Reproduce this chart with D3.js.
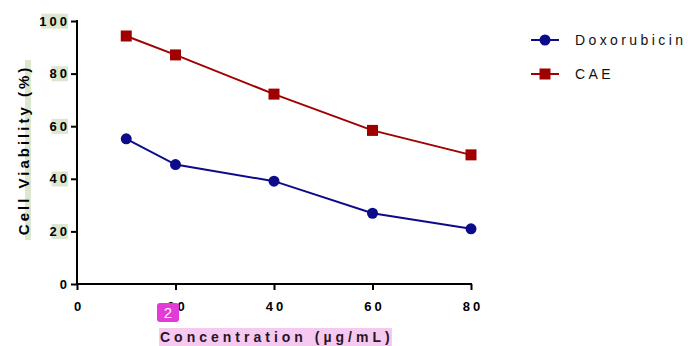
<!DOCTYPE html>
<html>
<head>
<meta charset="utf-8">
<script src="https://cdn.jsdelivr.net/npm/d3@7"></script>
<style>
  body { margin: 0; background: #fff; }
  svg text { font-family: "Liberation Sans", Arial, sans-serif; }
</style>
</head>
<body>
<div id="chart"></div>
<script>
// data
var concentrations = [10, 20, 40, 60, 80];
var doxorubicin = [55.2, 45.4, 39.1, 26.9, 21.0];
var cae = [94.3, 87.1, 72.2, 58.4, 49.1];
var seriesNames = ["Doxorubicin", "CAE"];
var xTicks = [0, 20, 40, 60, 80];
var yTicks = [0, 20, 40, 60, 80, 100];

var W = 688, H = 346;
var margin = {top: 21, left: 77};
var width = 394, height = 263;

var svg = d3.select("#chart")
  .append("svg")
    .attr("width", W)
    .attr("height", H);

var x = d3.scaleLinear().domain([0, 80]).range([margin.left, margin.left + width]);
var y = d3.scaleLinear().domain([0, 100]).range([margin.top + height, margin.top]);

// highlight layer (drawn first so it sits behind text)
var hl = svg.append("g");

// Y axis
var yAxis = svg.append("g")
  .attr("transform", "translate(" + margin.left + ",0)")
  .call(d3.axisLeft(y).tickValues(yTicks).tickSize(6).tickPadding(4).tickSizeOuter(0));
yAxis.select(".domain").attr("stroke", "#000").attr("stroke-width", 2)
  .attr("d", "M0," + (y(100) - 1) + "V" + (y(0) + 1));
yAxis.selectAll(".tick line").attr("stroke", "#000").attr("stroke-width", 2);
yAxis.selectAll(".tick text")
  .attr("fill", "#000")
  .style("font-size", "13px")
  .style("font-weight", "bold")
  .style("letter-spacing", "3px")
  .attr("dx", "3px");

// X axis
var xAxis = svg.append("g")
  .attr("transform", "translate(0," + y(0) + ")")
  .call(d3.axisBottom(x).tickValues(xTicks).tickSize(6).tickPadding(12).tickSizeOuter(0));
xAxis.select(".domain").attr("stroke", "#000").attr("stroke-width", 2)
  .attr("d", "M" + (x(0) - 1) + ",0H" + (x(80) + 1));
xAxis.selectAll(".tick line").attr("stroke", "#000").attr("stroke-width", 2);
xAxis.selectAll(".tick text")
  .attr("fill", "#000")
  .style("font-size", "13px")
  .style("font-weight", "bold")
  .style("letter-spacing", "3px")
  .attr("dx", "1.5px");

// light green boxes behind the y tick labels (except 0)
yAxis.selectAll(".tick text").each(function(d) {
  if (d === 0) return;
  var b = this.getBBox();
  var t = d3.select(this.parentNode).attr("transform").match(/[-\d.]+/g).map(Number);
  hl.append("rect")
    .attr("x", margin.left + t[0] + b.x + 2)
    .attr("y", t[1] + b.y)
    .attr("width", b.width - 4)
    .attr("height", b.height)
    .attr("fill", "#dde6cf");
});

// axis titles
svg.append("text")
  .attr("transform", "translate(29," + 150 + ") rotate(-90)")
  .attr("text-anchor", "middle")
  .attr("fill", "#000")
  .style("font-size", "15px")
  .style("font-weight", "bold")
  .style("letter-spacing", "3px")
  .text("Cell Viability (%)");
hl.append("rect")
  .attr("x", 25).attr("y", 60)
  .attr("width", 6).attr("height", 180)
  .attr("fill", "#dde6cf");

hl.append("rect")
  .attr("x", 159).attr("y", 328)
  .attr("width", 233).attr("height", 18)
  .attr("fill", "#f6c9f0");
svg.append("text")
  .attr("x", 160)
  .attr("y", 342)
  .attr("fill", "#2a1428")
  .style("font-size", "14px")
  .style("font-weight", "bold")
  .style("letter-spacing", "4px")
  .text("Concentration (\u00b5g/mL)");

// the pink "2" badge
svg.append("rect")
  .attr("x", 157).attr("y", 303)
  .attr("width", 22).attr("height", 19)
  .attr("rx", 3)
  .attr("fill", "#e43ad8");
svg.append("text")
  .attr("x", 168).attr("y", 318)
  .attr("text-anchor", "middle")
  .attr("fill", "#fff")
  .style("font-size", "15px")
  .text("2");

// series
var colors = {"Doxorubicin": "#0c0c8a", "CAE": "#a00000"};
var seriesData = [
  {name: "Doxorubicin", values: doxorubicin, shape: "circle"},
  {name: "CAE", values: cae, shape: "square"}
];

var line = d3.line()
  .x(function(d) { return x(d[0]); })
  .y(function(d) { return y(d[1]); });

seriesData.forEach(function(s) {
  var pts = concentrations.map(function(c, i) { return [c, s.values[i]]; });
  svg.append("path")
    .datum(pts)
    .attr("fill", "none")
    .attr("stroke", colors[s.name])
    .attr("stroke-width", 2)
    .attr("d", line);

  if (s.shape == "circle") {
    svg.selectAll(null)
      .data(pts)
      .enter()
      .append("circle")
        .attr("cx", function(d) { return x(d[0]); })
        .attr("cy", function(d) { return y(d[1]); })
        .attr("r", 5.5)
        .attr("fill", colors[s.name]);
  } else {
    svg.selectAll(null)
      .data(pts)
      .enter()
      .append("rect")
        .attr("x", function(d) { return x(d[0]) - 5.5; })
        .attr("y", function(d) { return y(d[1]) - 5.5; })
        .attr("width", 11)
        .attr("height", 11)
        .attr("fill", colors[s.name]);
  }
});

// legend
var legend = svg.append("g");
seriesData.forEach(function(s, i) {
  var ly = 40 + i * 34;
  legend.append("line")
    .attr("x1", 531).attr("x2", 559)
    .attr("y1", ly).attr("y2", ly)
    .attr("stroke", colors[s.name])
    .attr("stroke-width", 2);
  if (s.shape == "circle") {
    legend.append("circle").attr("cx", 545).attr("cy", ly).attr("r", 5.5).attr("fill", colors[s.name]);
  } else {
    legend.append("rect").attr("x", 539.5).attr("y", ly - 5.5).attr("width", 11).attr("height", 11).attr("fill", colors[s.name]);
  }
  legend.append("text")
    .attr("x", 575)
    .attr("y", ly + 5)
    .attr("fill", "#111")
    .style("font-size", "14px")
    .style("letter-spacing", "3.4px")
    .text(s.name);
});
</script>
</body>
</html>
